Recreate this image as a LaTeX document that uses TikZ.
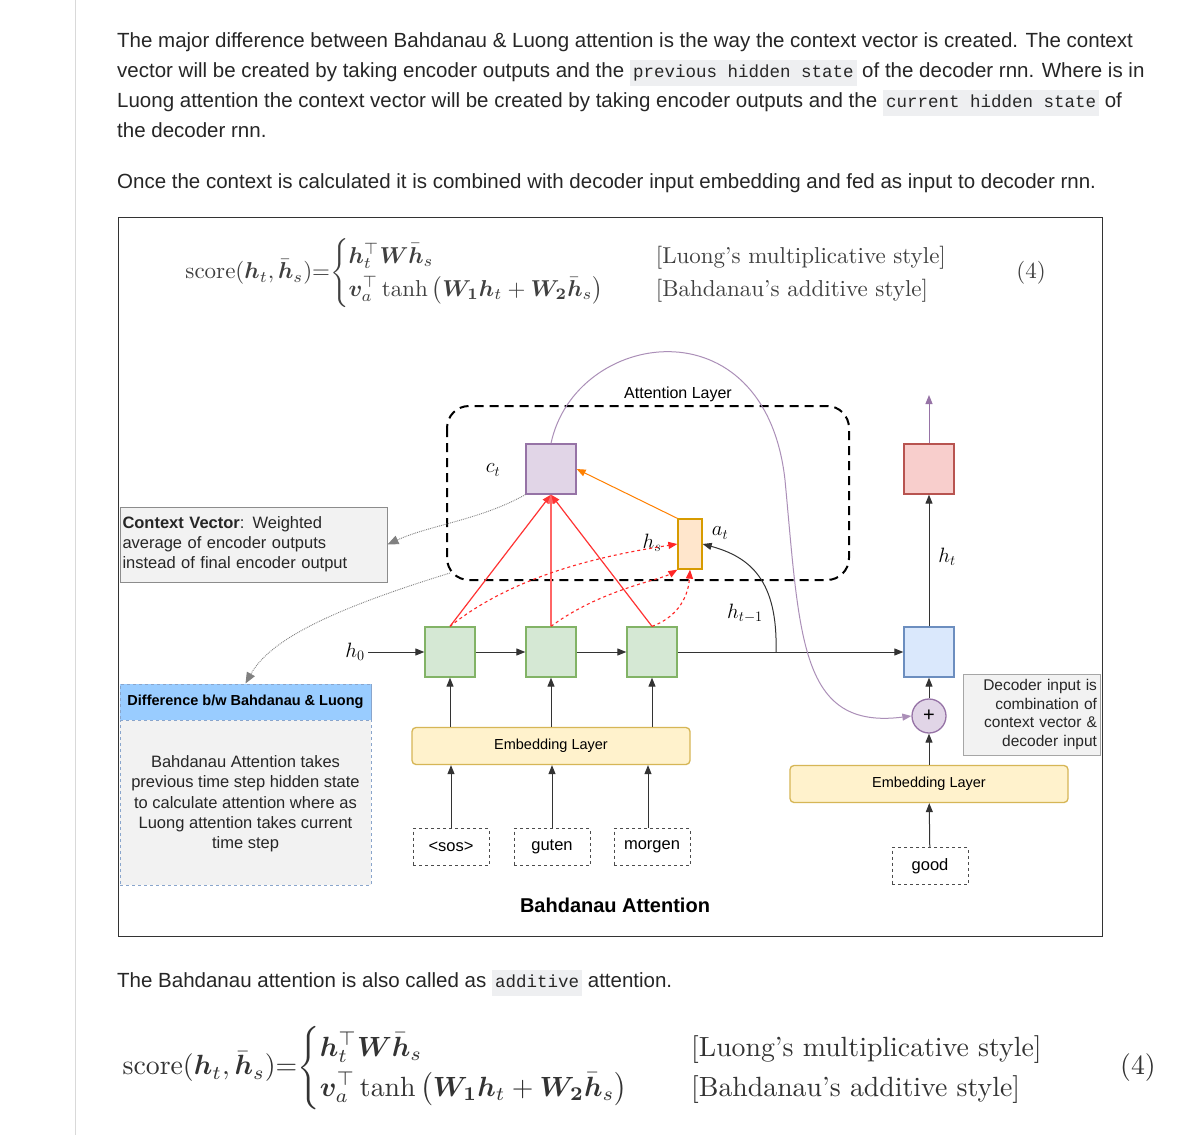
\documentclass[tikz,border=0pt]{standalone}
\usepackage{fontspec}
\usepackage{amsmath,amssymb,bm}
\setsansfont{Liberation Sans}
\newfontfamily\codef{Liberation Mono}
\usetikzlibrary{arrows.meta,calc}
\definecolor{codebg}{HTML}{EEEFF1}
\definecolor{gfill}{HTML}{D5E8D4}\definecolor{gdraw}{HTML}{82B366}
\definecolor{pfill}{HTML}{E1D5E7}\definecolor{pdraw}{HTML}{9673A6}
\definecolor{ofill}{HTML}{FFE6CC}\definecolor{odraw}{HTML}{D79B00}
\definecolor{rfill}{HTML}{F8CECC}\definecolor{rdraw}{HTML}{B85450}
\definecolor{bfill}{HTML}{DAE8FC}\definecolor{bdraw}{HTML}{6C8EBF}
\definecolor{yfill}{HTML}{FFF2CC}\definecolor{ydraw}{HTML}{D6B656}
\definecolor{hdr}{HTML}{99CCFF}
\newcommand{\cd}[1]{{\setlength\fboxsep{3pt}\colorbox{codebg}{\codef\fontsize{17.5}{20}\selectfont\strut #1}}}
\newcommand{\eqn}{\mathrm{score}(\bm{h}_t,\bar{\bm{h}}_s){=}\!\begin{cases}\bm{h}_t^{\top}\bm{W}\bar{\bm{h}}_s & \hspace{1.3em}\text{[Luong's multiplicative style]}\\ \bm{v}_a^{\top}\tanh\left(\bm{W_1}\bm{h}_t+\bm{W_2}\bar{\bm{h}}_s\right) & \hspace{1.3em}\text{[Bahdanau's additive style]}\end{cases}}
\begin{document}
\begin{tikzpicture}[x=1pt,y=-1pt,
 para/.style={anchor=base west,inner sep=0,font=\sffamily\fontsize{20.5}{24}\selectfont,text=black!85},
 dtxt/.style={font=\sffamily\fontsize{16}{19}\selectfont},
 sq/.style={draw,line width=1.3pt,minimum width=50,minimum height=50,inner sep=0},
 emb/.style={draw=ydraw,fill=yfill,line width=1.3pt,rounded corners=4pt,minimum width=278,minimum height=37,inner sep=0,font=\sffamily\fontsize{14.5}{17}\selectfont},
 inp/.style={draw=black!70,dashed,line width=0.9pt,minimum width=76,minimum height=37,inner sep=0,font=\sffamily\fontsize{16.5}{19}\selectfont},
 arr/.style={-{Triangle[length=9,width=7]},line width=1pt,black!80},
 rarr/.style={-{Triangle[length=9,width=7]},line width=1.2pt,red!80},
 rdarr/.style={-{Triangle[length=9,width=7]},line width=1.1pt,red!85,dashed},
 dot/.style={-{Triangle[length=11,width=9]},gray,line width=0.9pt,densely dotted},
 ml/.style={font=\fontsize{21}{24}\selectfont}]
\useasboundingbox (0,0) rectangle (1200,1135);
\fill[white] (0,0) rectangle (1200,1135);
\draw[black!15,line width=1pt] (75,0) -- (75,1135);
% paragraph
\node[para] (p1) at (117,47) {The major difference between Bahdanau \& Luong attention is the way the context vector is created. The context};
\node[para] (p2) at (117,77) {vector will be created by taking encoder outputs and the \cd{previous hidden state} of the decoder rnn. Where is in};
\node[para] (p3) at (117,107) {Luong attention the context vector will be created by taking encoder outputs and the \cd{current hidden state} of};
\node[para] (p4) at (117,137) {the decoder rnn.};
\node[para] (p5) at (117,188) {Once the context is calculated it is combined with decoder input embedding and fed as input to decoder rnn.};
% frame
\draw[black!80,line width=1pt] (118,217) rectangle (1102,936);
\node[anchor=west,inner sep=0,scale=2.3,text=black!75] (eq1) at (185,273) {$\displaystyle\eqn$};
\node[inner sep=0,scale=2.3,text=black!75] (n1) at (1031,273) {(4)};
% attention layer
\draw[line width=2pt,dash pattern=on 9pt off 6pt,rounded corners=22pt] (447,406) rectangle (849,580);
\node[dtxt,fill=white,inner sep=1pt] (al) at (678,394) {Attention Layer};
\node[sq,draw=pdraw,fill=pfill] (ct) at (551,469) {};
\node[ml] (ctl) at (493,470) {$c_t$};
\node[draw=odraw,fill=ofill,line width=1.3pt,minimum width=24,minimum height=50,inner sep=0] (at) at (690,544) {};
\node[ml] (atl) at (720,533) {$a_t$};
\node[ml] (hsl) at (652,543) {$h_s$};
\node[sq,draw=gdraw,fill=gfill] (g1) at (450,652) {};
\node[sq,draw=gdraw,fill=gfill] (g2) at (551,652) {};
\node[sq,draw=gdraw,fill=gfill] (g3) at (652,652) {};
\node[sq,draw=bdraw,fill=bfill] (bl) at (929,652) {};
\node[sq,draw=rdraw,fill=rfill] (rd) at (929,469) {};
\node[ml] (h0) at (355,652) {$h_0$};
\node[ml] (htm) at (745,613) {$h_{t-1}$};
\node[ml] (ht) at (947,557) {$h_t$};
\coordinate (top) at (929,395);
\node[circle,draw=pdraw,fill=pfill,line width=1.3pt,minimum size=34,inner sep=0,font=\sffamily\fontsize{20}{20}\selectfont] (pl) at (929,716) {+};
\node[emb] (e1) at (551,746) {Embedding Layer};
\node[emb] (e2) at (929,784) {Embedding Layer};
\node[inp] (i1) at (451,847) {<sos>};
\node[inp] (i2) at (552,847) {guten};
\node[inp] (i3) at (652,847) {morgen};
\node[inp] (i4) at (930,866) {good};
\node[font=\sffamily\bfseries\fontsize{20}{22}\selectfont] (ba) at (615,905) {Bahdanau Attention};
% annotations
\node[draw=black!45,fill=black!5,line width=1pt,minimum width=267,minimum height=75,text width=262,align=left,inner sep=2pt,font=\sffamily\fontsize{16.5}{20}\selectfont,text=black!85] (cv) at (253.5,544.5) {\textbf{Context Vector}: Weighted\\average of encoder outputs\\instead of final encoder output};
\node[draw=bdraw!80,dashed,fill=black!5,line width=1pt,minimum width=251,minimum height=201,inner sep=0] (df) at (245.5,784.5) {};
\node[draw=bdraw!80,dashed,fill=hdr,line width=1pt,minimum width=251,minimum height=36,inner sep=0,font=\sffamily\bfseries\fontsize{14.5}{17}\selectfont] (dh) at (245.5,702) {Difference b/w Bahdanau \& Luong};
\node[align=center,font=\sffamily\fontsize{16.5}{20.3}\selectfont,text=black!85] (dt) at (245.5,804) {Bahdanau Attention takes\\previous time step hidden state\\to calculate attention where as\\Luong attention takes current\\time step};
\node[draw=black!35,fill=black!5,line width=1pt,minimum width=137,minimum height=81,text width=131,align=right,inner sep=2pt,font=\sffamily\fontsize{15.5}{18.5}\selectfont,text=black!85] (dec) at (1031.5,714.5) {Decoder input is\\combination of\\context vector \&\\decoder input};
% connectors
\draw[arr] (h0) -- (g1);
\draw[arr] (g1) -- (g2);
\draw[arr] (g2) -- (g3);
\draw[arr] (g3) -- (bl);
\draw[arr] (776,652) .. controls (778,580) and (750,557) .. (at.east);
\draw[arr] (bl) -- (rd);
\draw[-{Triangle[length=9,width=7]},line width=1pt,pdraw] (rd) -- (top);
\draw[arr] (pl) -- (bl);
\draw[arr] (e2) -- (pl);
\draw[arr] (i4) -- (e2);
\foreach \g/\x in {g1/450,g2/551,g3/652}{\draw[arr] (e1.north -| \x,0) -- (\g);}
\draw[arr] (i1) -- (e1.south -| i1);
\draw[arr] (i2) -- (e1.south -| i2);
\draw[arr] (i3.north -| 648,0) -- (e1.south -| 648,0);
\draw[rarr] (g1.north) -- (ct.south);
\draw[rarr,red!60] (g2.north) -- (ct.south);
\draw[rarr] (g3.north) -- (ct.south);
\draw[rdarr] (g1.north) .. controls (520,570) and (620,553) .. (at.west);
\draw[rdarr] (g2.north) .. controls (600,590) and (660,580) .. (at.south west);
\draw[rdarr] (g3.north) .. controls (675,618) and (688,600) .. (at.south);
\draw[-{Triangle[length=9,width=7]},line width=1pt,orange] (at.north west) -- (ct.east);
\draw[-{Triangle[length=9,width=7]},line width=1pt,pdraw!80] (ct.north) .. controls (575,330) and (765,300) .. (785,480) .. controls (800,640) and (800,730) .. (pl.west);
\draw[dot] (ct.south west) .. controls (480,520) and (430,525) .. (cv.east);
\draw[dot] (450,573) .. controls (330,610) and (270,640) .. (dh.north);
% bottom
\node[para] (b1) at (117,987) {The Bahdanau attention is also called as \cd{additive} attention.};
\node[anchor=west,inner sep=0,scale=2.78,text=black!80] (eq2) at (122,1068) {$\displaystyle\eqn$};
\node[inner sep=0,scale=2.78,text=black!80] (n2) at (1138,1068) {(4)};
\end{tikzpicture}
\end{document}
